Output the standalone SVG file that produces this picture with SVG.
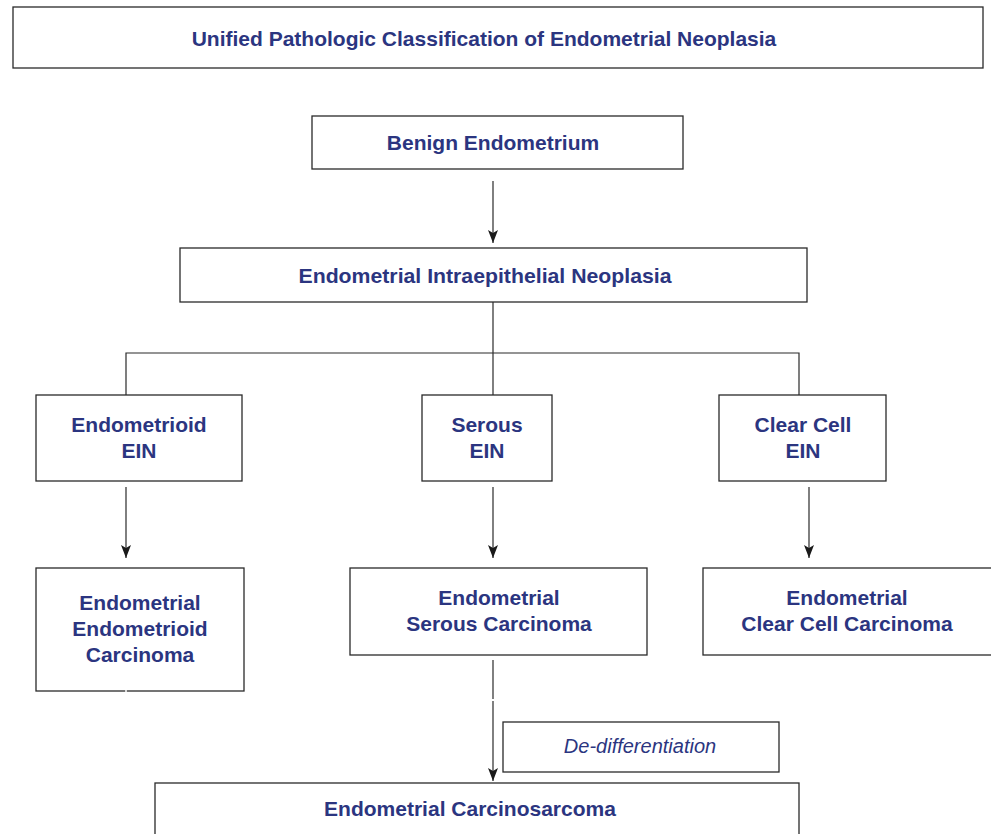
<svg xmlns="http://www.w3.org/2000/svg" width="991" height="834" viewBox="0 0 991 834">
<defs>
<style>
.box{fill:#fff;stroke:#2a2a2a;stroke-width:1.3}
.t{font-family:"Liberation Sans",Arial,sans-serif;font-weight:bold;font-size:21px;fill:#2b3580;text-anchor:middle}
.i{font-family:"Liberation Sans",Arial,sans-serif;font-style:italic;font-size:20px;fill:#2b3580;text-anchor:middle}
.c{stroke:#2a2a2a;stroke-width:1.2;fill:none}
</style>
<marker id="ah" markerWidth="14" markerHeight="10" refX="13" refY="5" orient="auto" markerUnits="userSpaceOnUse" viewBox="0 0 14 10">
<path d="M0,0 L13,5 L0,10 L3,5 Z" fill="#1a1a1a"/>
</marker>
</defs>
<rect width="991" height="834" fill="#fff"/>
<g id="connectors">
<line class="c" x1="493" y1="181" x2="493" y2="243" marker-end="url(#ah)"/>
<polyline class="c" points="493,302 493,353"/>
<polyline class="c" points="126,395 126,353 799,353 799,395"/>
<line class="c" x1="493" y1="353" x2="493" y2="395"/>
<line class="c" x1="126" y1="487" x2="126" y2="558" marker-end="url(#ah)"/>
<line class="c" x1="493" y1="487" x2="493" y2="558" marker-end="url(#ah)"/>
<line class="c" x1="809" y1="487" x2="809" y2="558" marker-end="url(#ah)"/>
<line class="c" x1="493" y1="660" x2="493" y2="699"/>
<line class="c" x1="493" y1="701" x2="493" y2="781" marker-end="url(#ah)"/>
</g>
<g id="title"><rect class="box" x="13" y="7" width="970" height="61"/><text class="t" x="484" y="46">Unified Pathologic Classification of Endometrial Neoplasia</text></g>
<g id="benign"><rect class="box" x="312" y="116" width="371" height="53"/><text class="t" x="493" y="150">Benign Endometrium</text></g>
<g id="ein"><rect class="box" x="180" y="248" width="627" height="54"/><text class="t" x="485" y="283" textLength="373" lengthAdjust="spacingAndGlyphs">Endometrial Intraepithelial Neoplasia</text></g>
<g id="endometrioid-ein"><rect class="box" x="36" y="395" width="206" height="86"/><text class="t" x="139" y="432">Endometrioid</text><text class="t" x="139" y="458">EIN</text></g>
<g id="serous-ein"><rect class="box" x="422" y="395" width="130" height="86"/><text class="t" x="487" y="432">Serous</text><text class="t" x="487" y="458">EIN</text></g>
<g id="clearcell-ein"><rect class="box" x="719" y="395" width="167" height="86"/><text class="t" x="803" y="432">Clear Cell</text><text class="t" x="803" y="458">EIN</text></g>
<g id="endometrioid-carcinoma"><rect class="box" x="36" y="568" width="208" height="123"/><line x1="126" y1="690" x2="126" y2="692.5" stroke="#fff" stroke-width="1.5"/><text class="t" x="140" y="610">Endometrial</text><text class="t" x="140" y="636">Endometrioid</text><text class="t" x="140" y="662">Carcinoma</text></g>
<g id="serous-carcinoma"><rect class="box" x="350" y="568" width="297" height="87"/><text class="t" x="499" y="605">Endometrial</text><text class="t" x="499" y="631">Serous Carcinoma</text></g>
<g id="clearcell-carcinoma"><rect class="box" x="703" y="568" width="300" height="87"/><text class="t" x="847" y="605">Endometrial</text><text class="t" x="847" y="631">Clear Cell Carcinoma</text></g>
<g id="dedifferentiation"><rect class="box" x="503" y="722" width="276" height="50"/><text class="i" x="640" y="753">De-differentiation</text></g>
<g id="carcinosarcoma"><rect class="box" x="155" y="783" width="644" height="70"/><text class="t" x="470" y="816">Endometrial Carcinosarcoma</text></g>
</svg>
